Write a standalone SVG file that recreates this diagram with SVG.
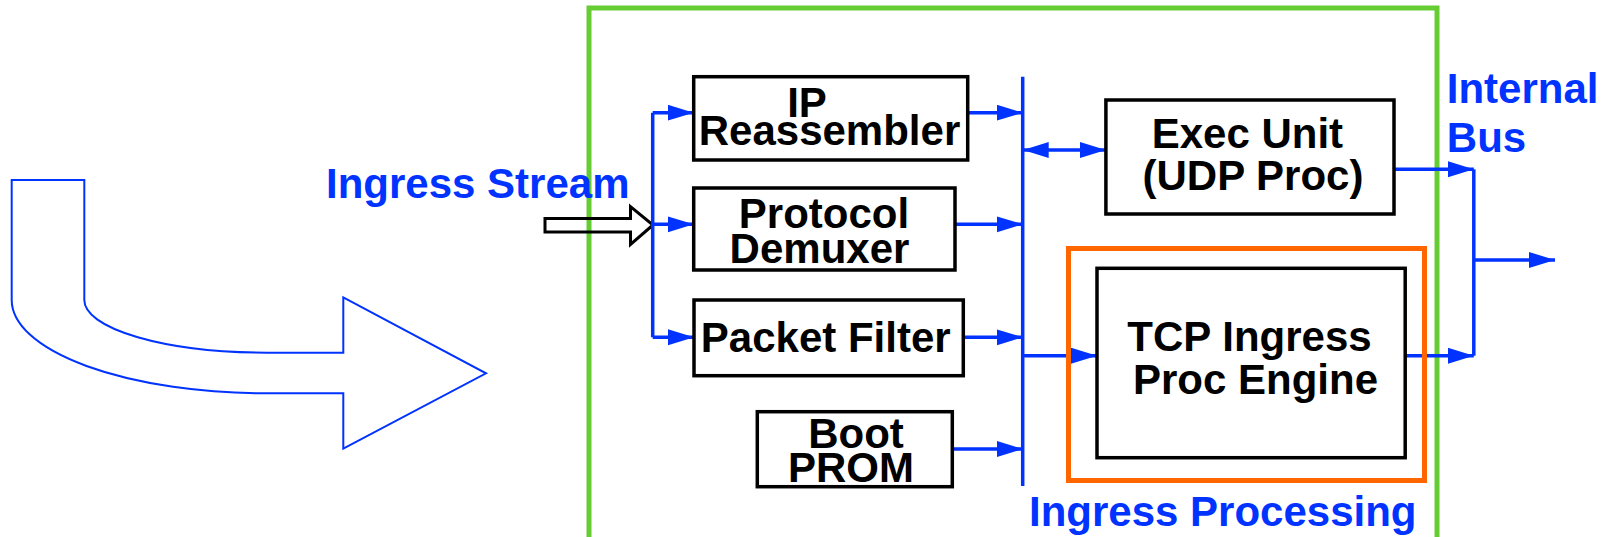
<svg xmlns="http://www.w3.org/2000/svg" width="1602" height="537" viewBox="0 0 1602 537">
  <style>
    .box { fill: #ffffff; stroke: #000000; stroke-width: 3.5; }
    .lbl { font-family: "Liberation Sans", Arial, sans-serif; font-weight: bold; font-size: 42px; fill: #000000; text-anchor: middle; }
    .blue { font-family: "Liberation Sans", Arial, sans-serif; font-weight: bold; font-size: 42px; fill: #0033ff; }
    .wire { fill: none; stroke: #0033ff; stroke-width: 3.5; }
    .arr { marker-end: url(#head); }
  </style>
  <defs>
    <marker id="head" markerUnits="userSpaceOnUse" markerWidth="27" markerHeight="17" refX="26" refY="8" orient="auto">
      <path d="M0,0 L26,8 L0,16 Z" fill="#0033ff"/>
    </marker>
    <marker id="tail" markerUnits="userSpaceOnUse" markerWidth="27" markerHeight="17" refX="0" refY="8" orient="auto">
      <path d="M26,0 L0,8 L26,16 Z" fill="#0033ff"/>
    </marker>
  </defs>

  <!-- big curved flow arrow on the left -->
  <g id="flow-arrow">
    <path d="M11.7,180 L84.3,180 L84.3,300 A183,52.7 0 0 0 267,352.7 L343.3,352.7 L343.3,297.3 L486,373.3 L343.3,448.7 L343.3,393.3 L267,393.3 A255.3,93.3 0 0 1 11.7,300 Z" fill="#ffffff" stroke="#0033ff" stroke-width="2"/>
  </g>

  <!-- ingress processing card outline -->
  <g id="card">
    <rect x="589" y="8" width="848" height="560" fill="none" stroke="#66cc33" stroke-width="5"/>
  </g>

  <g id="ingress-stream">
    <text class="blue" x="326" y="198">Ingress Stream</text>
    <polygon points="545,218.5 630.5,218.5 630.5,206.7 653,225 630.5,244.5 630.5,232 545,232" fill="none" stroke="#000000" stroke-width="3"/>
  </g>

  <g id="connectors">
    <!-- input fan-out -->
    <path class="wire" d="M652.7,112.7 L652.7,337.3"/>
    <path class="wire arr" d="M652.7,112.7 L693.7,112.7"/>
    <path class="wire arr" d="M652.7,224.3 L693.7,224.3"/>
    <path class="wire arr" d="M652.7,337.3 L694,337.3"/>
    <!-- into the shared bus -->
    <path class="wire" d="M1022.7,76.7 L1022.7,486"/>
    <path class="wire arr" d="M967.7,112.7 L1022.7,112.7"/>
    <path class="wire arr" d="M955,224.3 L1022.7,224.3"/>
    <path class="wire arr" d="M963.3,337.3 L1022.7,337.3"/>
    <path class="wire arr" d="M952.3,449 L1022.7,449"/>
    <!-- bus to engines -->
    <path class="wire arr" d="M1022.7,150 L1105.9,150" marker-start="url(#tail)"/>
    <path class="wire arr" d="M1022.7,355.7 L1097,355.7"/>
    <!-- internal bus -->
    <path class="wire" d="M1473.8,169.3 L1473.8,355.7"/>
    <path class="wire arr" d="M1394,169.3 L1473.8,169.3"/>
    <path class="wire arr" d="M1405.2,355.7 L1473.8,355.7"/>
    <path class="wire arr" d="M1473.8,260 L1555,260"/>
  </g>

  <g id="ip-reassembler">
    <rect class="box" x="693.7" y="76.7" width="274" height="83.3"/>
    <text class="lbl" x="807" y="116.7">IP</text>
    <text class="lbl" x="829.5" y="145">Reassembler</text>
  </g>

  <g id="protocol-demuxer">
    <rect class="box" x="693.7" y="188" width="261.3" height="82"/>
    <text class="lbl" x="824" y="228.3">Protocol</text>
    <text class="lbl" x="819.5" y="263.3">Demuxer</text>
  </g>

  <g id="packet-filter">
    <rect class="box" x="694" y="300" width="269.3" height="75.7"/>
    <text class="lbl" x="825.7" y="352.3">Packet Filter</text>
  </g>

  <g id="boot-prom">
    <rect class="box" x="757.3" y="411.7" width="195" height="75"/>
    <text class="lbl" x="856" y="448.3">Boot</text>
    <text class="lbl" x="851" y="482.3">PROM</text>
  </g>

  <g id="exec-unit">
    <rect class="box" x="1105.9" y="100" width="288.1" height="114"/>
    <text class="lbl" x="1247.4" y="148.3">Exec Unit</text>
    <text class="lbl" x="1253" y="190">(UDP Proc)</text>
  </g>

  <g id="tcp-engine">
    <rect x="1068.5" y="248.5" width="356" height="232" fill="none" stroke="#ff6600" stroke-width="5"/>
    <rect class="box" x="1097" y="268.3" width="308.2" height="189.4"/>
    <text class="lbl" x="1249.5" y="350.7">TCP Ingress</text>
    <text class="lbl" x="1255.5" y="394">Proc Engine</text>
  </g>

  <g id="captions">
    <text class="blue" x="1446.8" y="103.3">Internal</text>
    <text class="blue" x="1446.8" y="151.7">Bus</text>
    <text class="blue" x="1029" y="526">Ingress Processing</text>
  </g>
</svg>
